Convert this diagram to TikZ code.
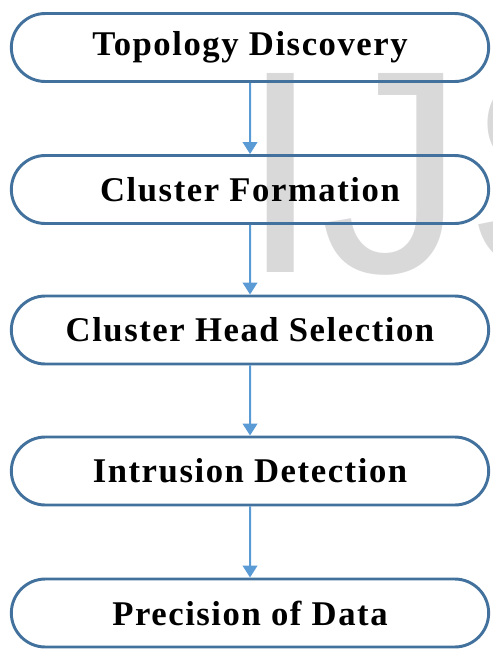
\documentclass[tikz,border=0pt]{standalone}
\usepackage{fontspec}
\setmainfont{Liberation Serif}
\newfontfamily\markfont{Liberation Sans}
\usepackage{tikz}
\usetikzlibrary{arrows.meta,shapes.misc,positioning}

\definecolor{boxblue}{RGB}{65,113,156}
\definecolor{arrowblue}{RGB}{91,155,213}
\tikzset{
	stage/.style={rounded rectangle, draw=boxblue, line width=2.2pt, minimum width=358pt, minimum height=51pt, inner sep=0pt, font=\fontsize{26}{30}\selectfont\bfseries\addfontfeature{LetterSpace=4.5}},
	flow/.style={draw=arrowblue, line width=1.5pt, -{Triangle[width=11pt,length=9pt]}}
}

\begin{document}
\begin{tikzpicture}[x=0.75pt,y=-0.75pt]
			\useasboundingbox (0,0) rectangle (493,651);
			\node [anchor=base west, inner sep=0pt, text=black!15, font=\markfont\fontsize{217}{217}\selectfont] (mark) at (240,272) {IJS};

			\node [stage] (topo) at (250,47.5) {Topology Discovery};
			\node [stage] (form) at (250,189.5) {Cluster Formation};
			\node [stage] (head) at (250,330) {Cluster Head Selection};
			\node [stage] (intr) at (250,471) {Intrusion Detection};
			\node [stage] (prec) at (250,613) {Precision of Data};

			\draw [flow] (topo) to (form);
			\draw [flow] (form) to (head);
			\draw [flow] (head) to (intr);
			\draw [flow] (intr) to (prec);
		\end{tikzpicture}
\end{document}
